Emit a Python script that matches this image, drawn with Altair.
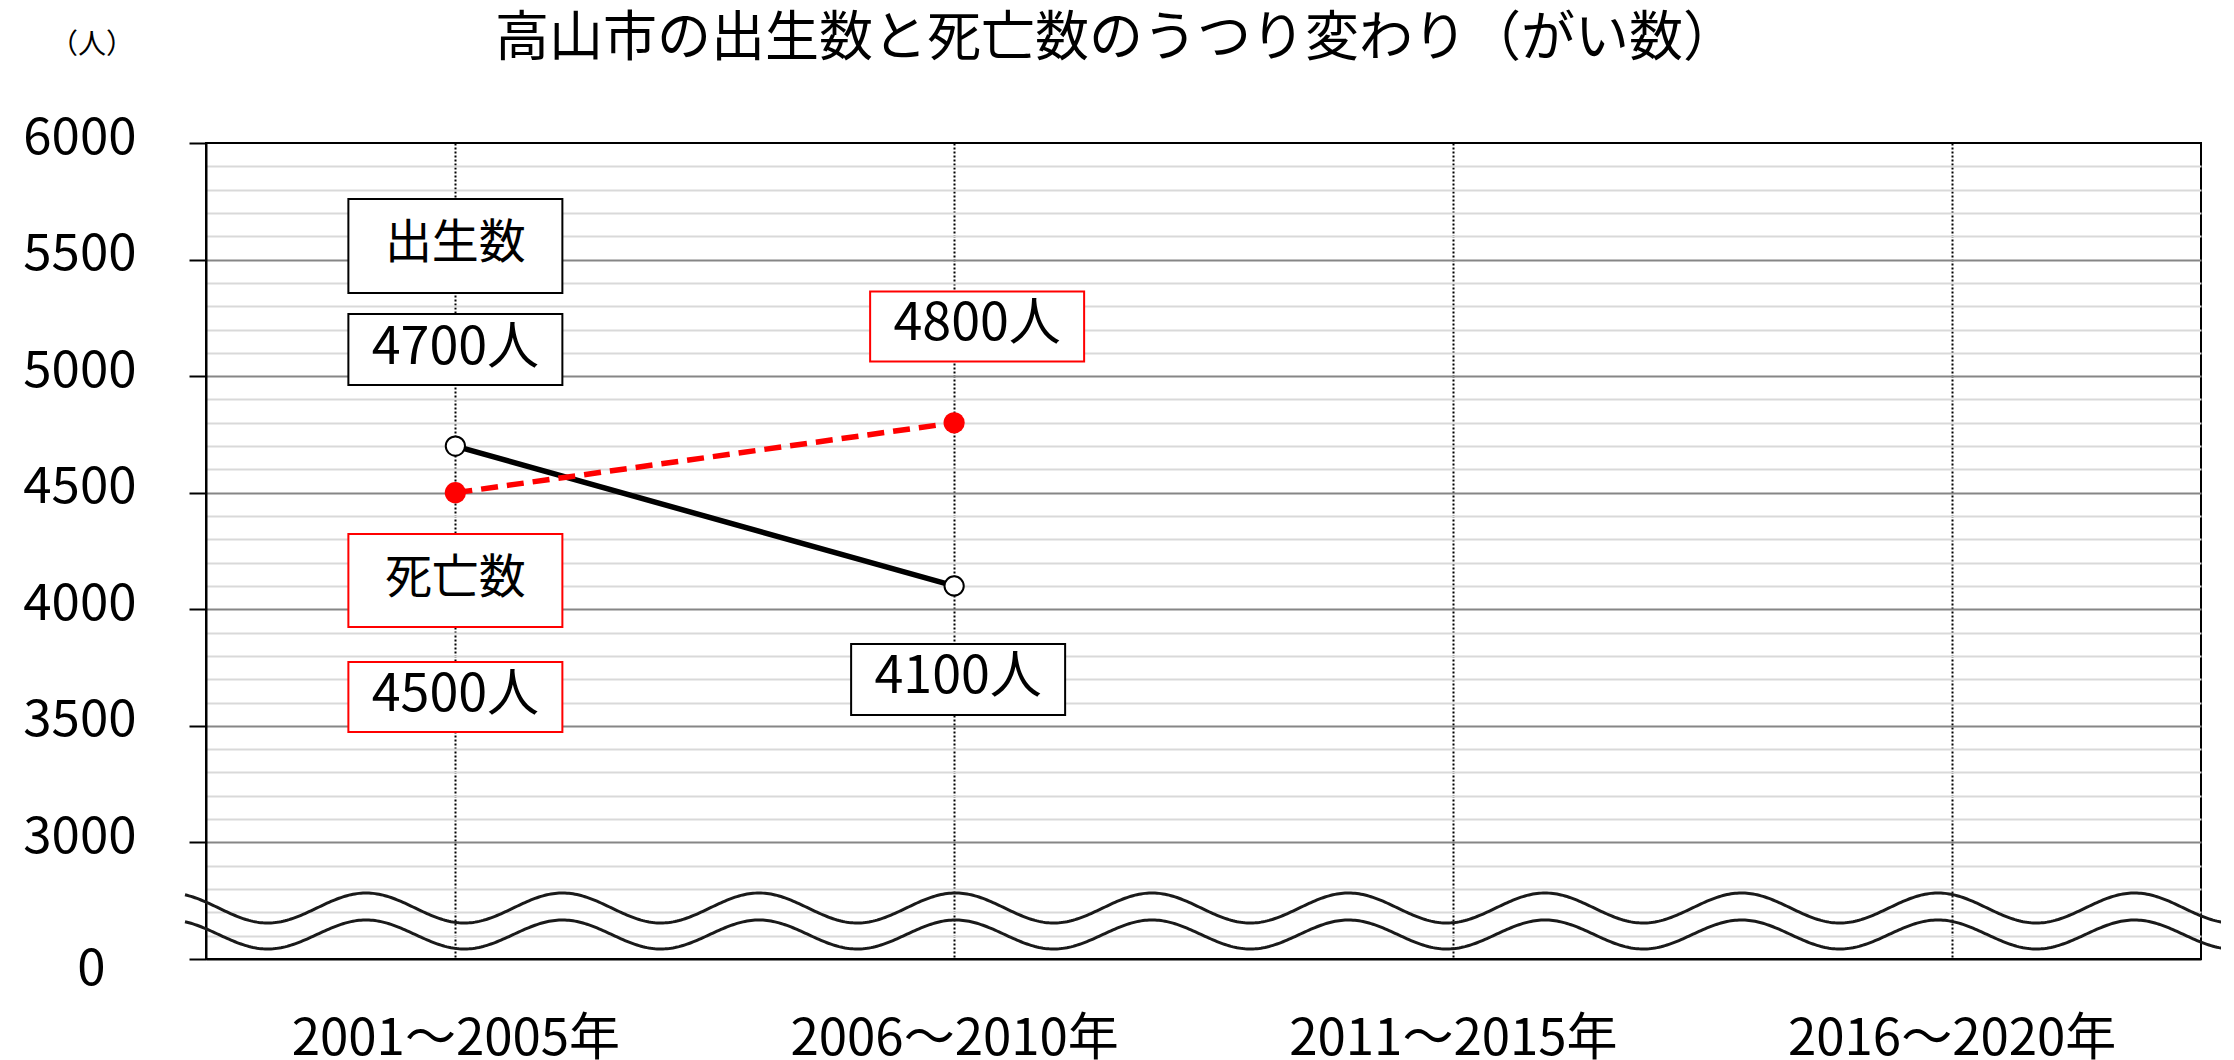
import altair as alt
import pandas as pd

FONT = "Noto Sans CJK JP"

# ---- data ----
periods = ["2001～2005年", "2006～2010年", "2011～2015年", "2016～2020年"]
data_periods = ["2001～2005年", "2006～2010年"]
births = [4700, 4100]
deaths = [4500, 4800]

title_text = "高山市の出生数と死亡数のうつり変わり（がい数）"
unit_text = "（人）"

# annotation boxes (text, category)
ann_text = ["出生数", "4700人", "4800人", "死亡数", "4500人", "4100人"]
ann_cat = ["2001～2005年", "2001～2005年", "2006～2010年",
           "2001～2005年", "2001～2005年", "2006～2010年"]

# ---- layout / style (kept separate from data) ----
W, H = 1995, 816
ann_ypos = [5558, 5114, 5213, 4123, 3624, 3699]   # box centres, in axis units
ann_dx = [0, 0, 23, 0, 0, 4]
ann_h = [94, 71, 70, 93, 70, 71]
ann_w = 214
ann_stroke = ["black", "black", "#ff0000", "#ff0000", "#ff0000", "black"]
ann_fs = [47, 52, 52, 47, 52, 52]

x_scale = alt.Scale(type="point", domain=periods, padding=0.5)
y_scale = alt.Scale(domain=[2500, 6000], nice=False, zero=False)

is500 = "datum.value % 500 === 0"
edge = "datum.value === 6000 || datum.value === 2500"

x_axis = alt.Axis(
    title=None, ticks=False, domain=True, domainColor="black", domainWidth=2,
    grid=True, gridColor="black", gridDash=[2, 2], gridWidth=2,
    labelFont=FONT, labelFontSize=51, labelColor="black", labelPadding=55,
    labelAngle=0, labelLimit=0, labelOverlap=False,
)
y_axis = alt.Axis(
    title=None, values=list(range(2500, 6001, 100)), format="d",
    labelExpr="(datum.value % 500 === 0 && datum.value > 2500) ? datum.label : ''",
    labelOverlap=False, labelFont=FONT, labelFontSize=51, labelColor="black",
    labelPadding=53, labelOffset=-5, labelLimit=0,
    domain=True, domainColor="black", domainWidth=2,
    tickColor="black", tickWidth=2, tickSize=17,
    tickOpacity={"condition": {"test": is500, "value": 1}, "value": 0},
    grid=True,
    gridColor={"condition": {"test": is500, "value": "#868686"}, "value": "#d9d9d9"},
    gridOpacity={"condition": {"test": edge, "value": 0}, "value": 1},
    gridWidth=2,
)

df_b = pd.DataFrame({"period": data_periods, "value": births})
df_d = pd.DataFrame({"period": data_periods, "value": deaths})

X = alt.X("period:N", scale=x_scale, sort=periods, axis=x_axis)
Y = alt.Y("value:Q", scale=y_scale, axis=y_axis)

birth_line = alt.Chart(df_b).mark_line(color="black", strokeWidth=5.5).encode(x=X, y=Y)
death_line = alt.Chart(df_d).mark_line(
    color="#ff0000", strokeWidth=5.5, strokeDash=[17, 9]).encode(x=X, y=Y)
birth_pts = alt.Chart(df_b).mark_point(
    shape="circle", filled=True, fill="white", stroke="black", strokeWidth=2,
    size=370, opacity=1).encode(x=X, y=Y)
death_pts = alt.Chart(df_d).mark_point(
    shape="circle", filled=True, fill="#ff0000", stroke="#ff0000", strokeWidth=0,
    size=450, opacity=1).encode(x=X, y=Y)

df_ann = pd.DataFrame({"label": ann_text, "period": ann_cat, "value": ann_ypos})
ann_layers = []
for i, t in enumerate(ann_text):
    base = alt.Chart(df_ann).transform_filter(alt.datum.label == t)
    rect = base.mark_rect(
        fill="white", stroke=ann_stroke[i], strokeWidth=2,
        xOffset=ann_dx[i] - ann_w / 2, x2Offset=ann_dx[i] + ann_w / 2,
        yOffset=-ann_h[i] / 2, y2Offset=ann_h[i] / 2,
    ).encode(x=X, x2="period:N", y=Y, y2="value:Q")
    txt = base.mark_text(
        font=FONT, fontSize=ann_fs[i], color="black", align="center",
        baseline="middle", dx=ann_dx[i], dy=-2,
    ).encode(x=X, y=Y, text="label:N")
    ann_layers += [rect, txt]

# break mark (decoration) drawn in pixel space
wave_src = alt.sequence(-21, 2020, 2, as_="px")
wave_up = alt.Chart(wave_src).transform_calculate(
    wy="765 - 15*cos(2*PI*(datum.px-160)/196.5)"
).mark_line(color="#1a1a1a", strokeWidth=3).encode(
    x=alt.X("px:Q", scale=None, axis=None), y=alt.Y("wy:Q", scale=None, axis=None))
wave_lo = alt.Chart(wave_src).transform_calculate(
    wy="791.5 - 14.5*cos(2*PI*(datum.px-160)/196.5)"
).mark_line(color="#1a1a1a", strokeWidth=3).encode(
    x=alt.X("px:Q", scale=None, axis=None), y=alt.Y("wy:Q", scale=None, axis=None))

title = alt.Chart(pd.DataFrame({"t": [title_text]})).mark_text(
    font=FONT, fontSize=54, color="black", align="center", baseline="middle"
).encode(text="t:N", x=alt.value(910), y=alt.value(-103))

unit = alt.Chart(pd.DataFrame({"t": [unit_text]})).mark_text(
    font=FONT, fontSize=28, color="black", align="center", baseline="middle"
).encode(text="t:N", x=alt.value(-114), y=alt.value(-97))

zero = alt.Chart(pd.DataFrame({"t": ["0"], "value": [2500]})).mark_text(
    font=FONT, fontSize=51, color="black", align="center", baseline="middle", dy=11
).encode(text="t:N", x=alt.value(-114.5), y=Y)

chart = alt.layer(
    birth_line, death_line, *ann_layers, birth_pts, death_pts,
    wave_up, wave_lo, title, unit, zero,
).properties(
    width=W, height=H, background="white",
    autosize=alt.AutoSizeParams(type="none"),
    padding={"left": 198, "top": 135, "right": 20, "bottom": 110},
).configure_view(stroke="black", strokeWidth=2)

chart.save("out.html", embed_options={"renderer": "svg", "actions": False})
